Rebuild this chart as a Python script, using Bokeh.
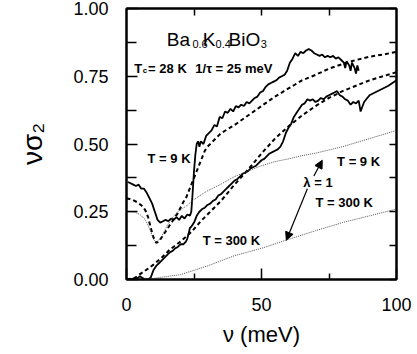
from bokeh.plotting import figure
from bokeh.models import LinearAxis, FixedTicker, Arrow, NormalHead, Range1d, CustomJSTickFormatter
from bokeh.core.properties import value
from bokeh.embed import file_html
from bokeh.resources import INLINE

# ---------------- data ----------------
# experimental, T = 9 K (solid, upper)
nu_exp9 = [0.5, 1.5, 2.5, 3.5, 4.5, 5.5, 6.5, 7.5, 8.5, 9.5, 10.5, 11.5, 12.5, 13.5, 14.5,
           15.5, 16.5, 17.5, 18.5, 19.5, 20.5, 21.5, 22.5, 23.5, 24.0, 24.5, 25.0, 25.5,
           26.0, 26.5, 27.0, 27.5, 28.5, 29.5, 30.5, 31.5, 32.5, 33.5, 34.5, 35.5, 36.5,
           37.5, 38.5, 39.5, 40.5, 41.5, 42.5, 43.5, 44.5, 45.5, 46.5, 47.5, 48.5, 49.5,
           50.5, 51.5, 52.5, 53.5, 54.5, 55.5, 56.5, 57.5, 58.5, 59.5, 60.5, 61.5, 62.5,
           63.5, 64.5, 65.5, 66.5, 67.5, 68.5, 69.5, 70.5, 71.5, 72.5, 73.5, 74.5, 75.5,
           76.5, 77.5, 78.5, 79.5, 80.5, 81.0, 81.5, 82.5, 83.0, 83.5, 84.5, 85.0, 85.5, 86.0]
s2_exp9 = [0.36, 0.355, 0.35, 0.345, 0.35, 0.335, 0.335, 0.32, 0.30, 0.28, 0.25, 0.22, 0.21,
           0.215, 0.22, 0.215, 0.225, 0.22, 0.23, 0.22, 0.235, 0.225, 0.24, 0.235, 0.25,
           0.32, 0.40, 0.46, 0.50, 0.51, 0.49, 0.51, 0.50, 0.53, 0.54, 0.55, 0.57, 0.565,
           0.60, 0.595, 0.62, 0.615, 0.63, 0.62, 0.64, 0.635, 0.645, 0.64, 0.655, 0.65,
           0.66, 0.67, 0.675, 0.69, 0.695, 0.71, 0.72, 0.725, 0.73, 0.735, 0.745, 0.75,
           0.755, 0.77, 0.80, 0.815, 0.835, 0.825, 0.84, 0.835, 0.845, 0.85, 0.845, 0.835,
           0.83, 0.825, 0.83, 0.82, 0.825, 0.82, 0.825, 0.815, 0.82, 0.81, 0.80, 0.78,
           0.805, 0.79, 0.77, 0.80, 0.78, 0.76, 0.79, 0.77]

# experimental, T = 300 K (solid, lower)
nu_exp300 = [0, 2, 4, 5, 6, 7, 8, 9, 10, 11, 12, 13, 14, 15, 16, 17, 18, 19, 20, 21, 22,
             22.5, 23, 23.5, 24, 25, 26, 27, 28, 29, 30, 31, 32, 33, 34, 35, 36, 37, 38,
             39, 40, 41, 42, 43, 44, 45, 46, 47, 48, 49, 50, 51, 52, 53, 54, 55, 56, 57,
             58, 59, 60, 61, 62, 63, 64, 65, 66, 67, 68, 69, 70, 71, 72, 73, 74, 75, 76,
             77, 78, 79, 80, 81, 82, 83, 84, 85, 86, 86.7, 88, 90, 92, 95, 97, 100]
s2_exp300 = [0.0, 0.002, 0.005, 0.012, 0.005, 0.0, 0.0, 0.008, 0.035, 0.05, 0.06, 0.07,
             0.08, 0.09, 0.10, 0.105, 0.115, 0.12, 0.13, 0.13, 0.14, 0.15, 0.17, 0.19,
             0.195, 0.21, 0.235, 0.25, 0.26, 0.265, 0.275, 0.28, 0.29, 0.295, 0.31, 0.315,
             0.325, 0.335, 0.345, 0.355, 0.365, 0.37, 0.38, 0.39, 0.395, 0.40, 0.41, 0.415,
             0.42, 0.43, 0.44, 0.445, 0.455, 0.465, 0.47, 0.475, 0.48, 0.49, 0.51, 0.54,
             0.56, 0.575, 0.60, 0.615, 0.63, 0.645, 0.65, 0.665, 0.66, 0.665, 0.655, 0.66,
             0.67, 0.665, 0.675, 0.68, 0.685, 0.69, 0.695, 0.68, 0.675, 0.665, 0.66, 0.645,
             0.655, 0.65, 0.66, 0.62, 0.655, 0.68, 0.69, 0.705, 0.715, 0.735]

# fit, T = 9 K (dashed)
nu_fit9 = [0, 2, 4, 6, 7, 8, 9, 10, 11, 12, 13, 14, 15, 16, 17, 18, 19, 20, 21, 22, 23, 24,
           25, 26, 27, 28, 29, 30, 32, 35, 40, 45, 50, 55, 60, 65, 70, 75, 80, 85, 90, 95, 100]
s2_fit9 = [0.30, 0.295, 0.285, 0.27, 0.255, 0.23, 0.19, 0.155, 0.135, 0.14, 0.155, 0.17,
           0.185, 0.20, 0.215, 0.23, 0.245, 0.265, 0.285, 0.30, 0.325, 0.35, 0.375, 0.40,
           0.425, 0.45, 0.475, 0.49, 0.51, 0.54, 0.57, 0.605, 0.64, 0.675, 0.705, 0.735,
           0.755, 0.778, 0.795, 0.81, 0.822, 0.83, 0.84]

# fit, T = 300 K (dashed)
nu_fit300 = [0, 3, 5, 8, 10, 13, 16, 20, 24, 27.5, 30, 32.5, 35, 40, 45, 50, 55, 60, 65,
             70, 75, 80, 85, 90, 95, 100]
s2_fit300 = [0.0, 0.005, 0.02, 0.04, 0.055, 0.08, 0.11, 0.14, 0.175, 0.215, 0.24, 0.265,
             0.29, 0.35, 0.405, 0.465, 0.52, 0.565, 0.605, 0.64, 0.67, 0.695, 0.715, 0.735,
             0.75, 0.765]

# lambda = 1, T = 9 K (dotted)
nu_lam9 = [0, 3, 5, 7, 8, 9, 10, 11, 12, 13, 14, 15, 16, 17, 18, 19, 20, 22, 25, 28, 30,
           35, 40, 45, 50, 55, 60, 65, 70, 75, 80, 85, 90, 95, 100]
s2_lam9 = [0.25, 0.248, 0.24, 0.22, 0.20, 0.175, 0.148, 0.138, 0.145, 0.16, 0.178, 0.198,
           0.213, 0.228, 0.24, 0.25, 0.258, 0.27, 0.295, 0.315, 0.327, 0.352, 0.38, 0.40,
           0.42, 0.435, 0.445, 0.457, 0.466, 0.478, 0.49, 0.505, 0.52, 0.535, 0.55]

# lambda = 1, T = 300 K (dotted)
nu_lam300 = [0, 10, 20, 30, 40, 50, 60, 70, 80, 90, 100]
s2_lam300 = [0.0, 0.004, 0.018, 0.05, 0.088, 0.115, 0.148, 0.18, 0.21, 0.235, 0.26]

x_ticks = [0, 50, 100]
x_minor = [25, 75]
y_ticks = [0.0, 0.25, 0.5, 0.75, 1.0]
y_minor = [0.125, 0.375, 0.625, 0.875]

FONT = "Liberation Sans"

p = figure(width=417, height=354, output_backend="svg", toolbar_location=None,
           x_range=Range1d(0, 100), y_range=Range1d(0, 1),
           min_border_left=126, min_border_right=21, min_border_top=8,
           min_border_bottom=75)
p.grid.visible = False
p.outline_line_color = "black"
p.outline_line_width = 2
p.background_fill_color = "white"
p.border_fill_color = "white"

# bottom axis
xa = p.xaxis[0]
xa.ticker = FixedTicker(ticks=x_ticks, minor_ticks=x_minor)
xa.major_tick_in = 11
xa.major_tick_out = 0
xa.minor_tick_in = 6
xa.minor_tick_out = 0
xa.major_label_standoff = 18
xa.major_label_text_font = FONT
xa.major_label_text_font_size = "18px"
xa.major_label_text_color = "black"
xa.axis_label = "ν (meV)"
xa.axis_label_text_font = FONT
xa.axis_label_text_font_style = "normal"
xa.axis_label_text_font_size = "22px"
xa.axis_label_text_color = "black"
xa.axis_label_standoff = 8
xa.axis_line_width = 2
xa.major_tick_line_width = 1.5
xa.minor_tick_line_width = 1.5

# left axis
ya = p.yaxis[0]
ya.ticker = FixedTicker(ticks=y_ticks, minor_ticks=y_minor)
ya.major_tick_in = 11
ya.major_tick_out = 0
ya.minor_tick_in = 10
ya.minor_tick_out = 0
ya.major_label_standoff = 18
ya.major_label_text_font = FONT
ya.major_label_text_font_size = "18px"
ya.major_label_text_color = "black"
ya.formatter = CustomJSTickFormatter(code="return tick.toFixed(2);")
ya.axis_label = "νσ₂"
ya.axis_label_text_font = FONT
ya.axis_label_text_font_style = "normal"
ya.axis_label_text_font_size = "28px"
ya.axis_label_text_color = "black"
ya.axis_label_standoff = 22
ya.axis_line_width = 2
ya.major_tick_line_width = 1.5
ya.minor_tick_line_width = 1.5

blank = CustomJSTickFormatter(code="return '';")
# right axis (ticks only)
ra = LinearAxis(ticker=FixedTicker(ticks=y_ticks, minor_ticks=y_minor), formatter=blank,
                major_tick_in=7, major_tick_out=0, minor_tick_in=7, minor_tick_out=0,
                major_label_standoff=0, axis_line_width=2,
                major_tick_line_width=1.5, minor_tick_line_width=1.5)
p.add_layout(ra, "right")
# top axis (ticks only)
ta = LinearAxis(ticker=FixedTicker(ticks=[25, 50, 75], minor_ticks=[]), formatter=blank,
                major_tick_in=7, major_tick_out=0, minor_tick_in=0, minor_tick_out=0,
                major_label_standoff=0, axis_line_width=2,
                major_tick_line_width=1.5)
p.add_layout(ta, "above")

# curves
p.line(nu_exp9, s2_exp9, line_color="black", line_width=1.8)
p.line(nu_exp300, s2_exp300, line_color="black", line_width=1.8)
p.line(nu_fit9, s2_fit9, line_color="black", line_width=2, line_dash="4 3")
p.line(nu_fit300, s2_fit300, line_color="black", line_width=2, line_dash="4 3")
p.line(nu_lam9, s2_lam9, line_color="#555555", line_width=1, line_dash="1 1")
p.line(nu_lam300, s2_lam300, line_color="#555555", line_width=1, line_dash="1 1")

# arrows
p.add_layout(Arrow(end=NormalHead(size=8, fill_color="black", line_color="black"),
                   x_start=69.4, y_start=0.382, x_end=72.5, y_end=0.44,
                   line_color="black", line_width=1.2))
p.add_layout(Arrow(end=NormalHead(size=8, fill_color="black", line_color="black"),
                   x_start=67.0, y_start=0.335, x_end=59.2, y_end=0.145,
                   line_color="black", line_width=1.2))


def txt(x, y, s, size, bold=False, baseline="middle", align="left"):
    p.text(x=[x], y=[y], text=[s], text_font=value(FONT), text_font_size=size,
           text_font_style="bold" if bold else "normal", text_baseline=baseline,
           text_align=align, text_color="black")


# compound formula with subscripts
txt(14.9, 0.885, "Ba", "19px", baseline="alphabetic")
txt(24.4, 0.870, "0.6", "11px", baseline="alphabetic")
txt(28.2, 0.885, "K", "19px", baseline="alphabetic")
txt(33.0, 0.870, "0.4", "11px", baseline="alphabetic")
txt(37.8, 0.885, "BiO", "19px", baseline="alphabetic")
txt(49.7, 0.870, "3", "11px", baseline="alphabetic")

# parameters
txt(2.9, 0.78, "T", "13px", bold=True)
txt(6.0, 0.772, "c", "8px", bold=True)
txt(8.0, 0.78, "= 28 K", "13px", bold=True)
txt(25.5, 0.78, "1/τ = 25 meV", "13px", bold=True)

# curve labels
txt(7.8, 0.445, "T = 9 K", "13px", bold=True)
txt(28.2, 0.144, "T = 300 K", "13px", bold=True)
txt(78.0, 0.437, "T = 9 K", "13px", bold=True)
txt(65.5, 0.357, "λ = 1", "13px", bold=True)
txt(70.0, 0.283, "T = 300 K", "13px", bold=True)

open("out.html", "w").write(file_html(p, INLINE))
